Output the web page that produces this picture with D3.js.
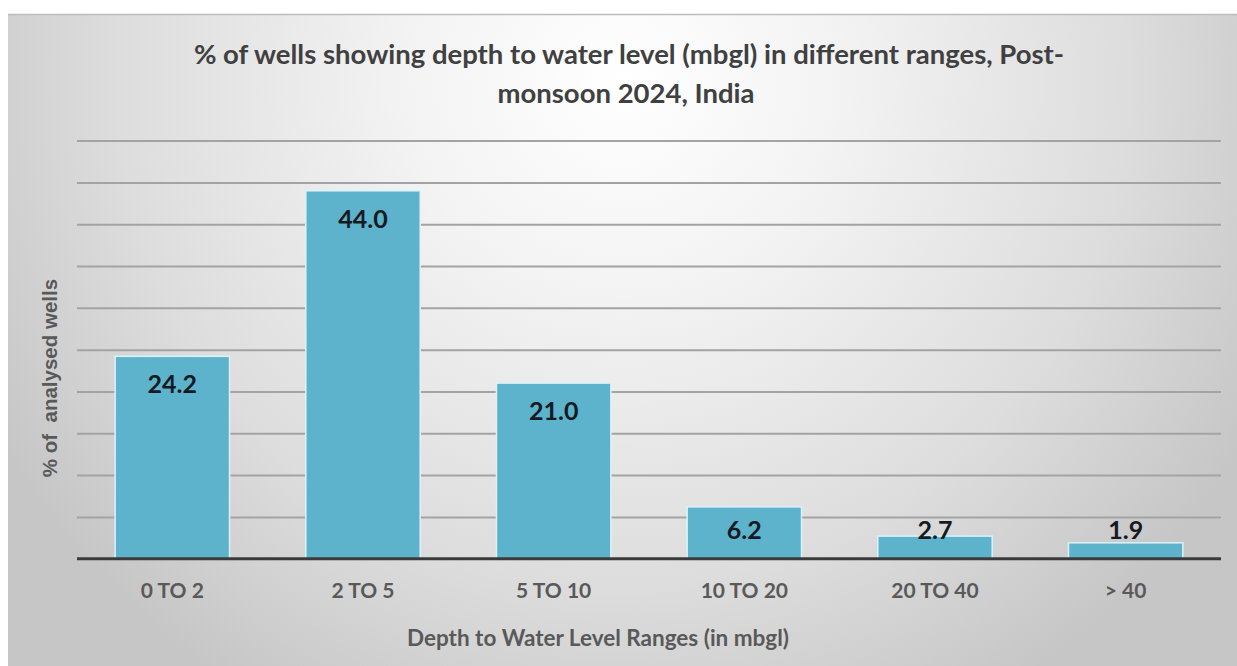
<!DOCTYPE html>
<html>
<head>
<meta charset="utf-8">
<script src="https://cdn.jsdelivr.net/npm/d3@7"></script>
<style>
  html, body { margin: 0; padding: 0; background: #ffffff; }
  svg { display: block; }
</style>
</head>
<body>
<svg id="chart" width="1237" height="666"></svg>
<script>
const titleLines = ["% of wells showing depth to water level (mbgl) in different ranges, Post-", "monsoon 2024, India"];
const categories = ["0 TO 2", "2 TO 5", "5 TO 10", "10 TO 20", "20 TO 40", "> 40"];
const values = [24.2, 44.0, 21.0, 6.2, 2.7, 1.9];
const yTicks = [0, 5, 10, 15, 20, 25, 30, 35, 40, 45, 50];
const yLabel = "% of  analysed wells";
const xLabel = "Depth to Water Level Ranges (in mbgl)";

const svg = d3.select("#chart");
const W = 1237, H = 666;

// background with radial gradient
const defs = svg.append("defs");
const grad = defs.append("radialGradient")
  .attr("id", "bg").attr("gradientUnits", "userSpaceOnUse")
  .attr("cx", 622).attr("cy", 80).attr("r", 720);
[[0, "#ffffff"], [0.3, "#f3f3f3"], [0.7, "#dddddd"], [1, "#c6c6c6"]].forEach(([o, c]) =>
  grad.append("stop").attr("offset", o).attr("stop-color", c));

svg.append("rect").attr("x", 8).attr("y", 14).attr("width", W - 8).attr("height", H - 14)
  .attr("fill", "url(#bg)");
svg.append("line").attr("x1", 8).attr("x2", W).attr("y1", 14.5).attr("y2", 14.5)
  .attr("stroke", "#bdbdbd").attr("stroke-width", 1.5);

const m = { left: 77, right: 1221, top: 140.6, bottom: 558.7 };

const x = d3.scaleBand().domain(categories).range([m.left, m.right])
  .paddingInner(0.4).paddingOuter(0.2);
const y = d3.scaleLinear().domain([0, 50]).range([m.bottom, m.top]);

// gridlines
svg.append("g")
  .attr("transform", `translate(${m.left},0)`)
  .call(d3.axisLeft(y).tickValues(yTicks.filter(t => t > 0)).tickSize(-(m.right - m.left)).tickFormat(""))
  .call(g => g.select(".domain").remove())
  .call(g => g.selectAll(".tick line").attr("stroke", "#a3a3a3").attr("stroke-width", 2));

// bars
svg.append("g").selectAll("rect").data(values).join("rect")
  .attr("x", (d, i) => x(categories[i]))
  .attr("y", d => y(d))
  .attr("width", x.bandwidth())
  .attr("height", d => y(0) - y(d))
  .attr("fill", "#5cb3cb")
  .attr("stroke", "#dcf2f9")
  .attr("stroke-width", 1.5);

// x axis baseline + tick labels
const xAxis = svg.append("g")
  .attr("transform", `translate(0,${y(0)})`)
  .call(d3.axisBottom(x).tickSize(0).tickPadding(0));
xAxis.select(".domain").remove();
xAxis.selectAll(".tick text")
  .attr("y", 39)
  .attr("dy", 0)
  .attr("font-family", "Lato, 'Open Sans', sans-serif")
  .attr("font-weight", 700)
  .attr("font-size", 21)
  .attr("fill", "#595959");
svg.append("line").attr("x1", m.left).attr("x2", m.right).attr("y1", y(0)).attr("y2", y(0))
  .attr("stroke", "#3a3a3a").attr("stroke-width", 3);

// value labels
svg.append("g").selectAll("text").data(values).join("text")
  .attr("x", (d, i) => x(categories[i]) + x.bandwidth() / 2)
  .attr("y", d => Math.min(y(d) + 37, y(0) - 20))
  .attr("text-anchor", "middle")
  .attr("font-family", "Lato, 'Open Sans', sans-serif")
  .attr("font-weight", 700)
  .attr("font-size", 25)
  .attr("fill", "#151a22")
  .text(d => d.toFixed(1));

// title
svg.append("g").selectAll("text").data(titleLines).join("text")
  .attr("x", (d, i) => i === 0 ? 629 : 626)
  .attr("y", (d, i) => 64 + i * 39)
  .attr("text-anchor", "middle")
  .attr("font-family", "Lato, 'Open Sans', sans-serif")
  .attr("font-weight", 700)
  .attr("font-size", 27.5)
  .attr("fill", "#404040")
  .text(d => d);

// y axis label
svg.append("text")
  .attr("transform", "translate(57,378) rotate(-90)")
  .attr("text-anchor", "middle")
  .attr("font-family", "'Liberation Sans', Arial, sans-serif")
  .attr("font-weight", 700)
  .attr("font-size", 20.5)
  .attr("fill", "#595959")
  .style("white-space", "pre")
  .text(yLabel);

// x axis label
svg.append("text")
  .attr("x", 598).attr("y", 646)
  .attr("text-anchor", "middle")
  .attr("font-family", "Lato, 'Open Sans', sans-serif")
  .attr("font-weight", 700)
  .attr("font-size", 22.5)
  .attr("fill", "#595959")
  .text(xLabel);
</script>
</body>
</html>
